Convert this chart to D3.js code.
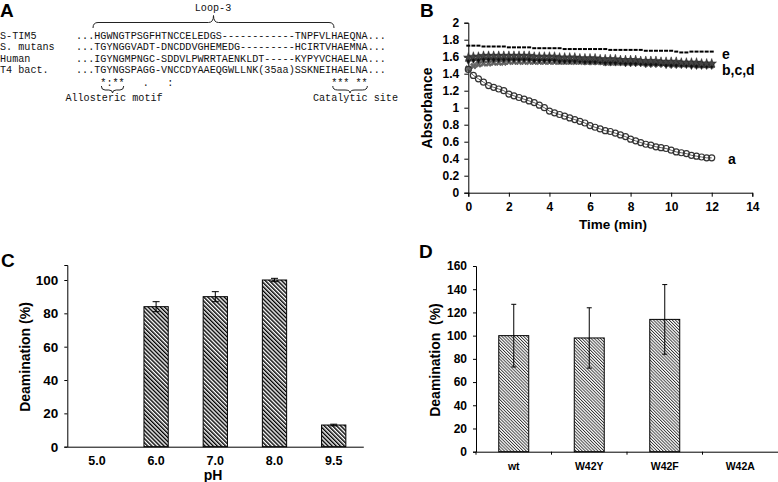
<!DOCTYPE html>
<html><head><meta charset="utf-8">
<script src="https://cdn.jsdelivr.net/npm/d3@7"></script>
<style>
html,body{margin:0;padding:0;background:#fff;}
svg{display:block;}
text{font-family:"Liberation Sans",Arial,sans-serif;}
.mono{font-family:"Liberation Mono","Courier New",monospace;font-size:10.15px;fill:#111;white-space:pre;}
.tick text{font-weight:bold;fill:#000;}
</style></head><body>
<svg id="c" width="778" height="482"></svg>
<script>
// ---------- Panel A data ----------
const seqNames = ["S-TIM5", "S. mutans", "Human", "T4 bact."];
const seqs = [
  "...HGWNGTPSGFHTNCCELEDGS------------TNPFVLHAEQNA...",
  "...TGYNGGVADT-DNCDDVGHEMEDG---------HCIRTVHAEMNA...",
  "...IGYNGMPNGC-SDDVLPWRRTAENKLDT-----KYPYVCHAELNA...",
  "...TGYNGSPAGG-VNCCDYAAEQGWLLNK(35aa)SSKNEIHAELNA..."
];
const conservation = "    *:**   .   :                          *** **";

// ---------- Panel B data ----------
const times = [0,0.25,0.5,0.75,1,1.25,1.5,1.75,2,2.25,2.5,2.75,3,3.25,3.5,3.75,4,4.25,4.5,4.75,5,5.25,5.5,5.75,6,6.25,6.5,6.75,7,7.25,7.5,7.75,8,8.25,8.5,8.75,9,9.25,9.5,9.75,10,10.25,10.5,10.75,11,11.25,11.5,11.75,12];
const absA = [1.45,1.38,1.34,1.30,1.26,1.24,1.22,1.20,1.16,1.14,1.12,1.10,1.08,1.06,1.03,1.00,0.96,0.94,0.92,0.90,0.88,0.86,0.84,0.82,0.79,0.77,0.75,0.73,0.72,0.70,0.68,0.66,0.63,0.61,0.59,0.57,0.56,0.54,0.53,0.52,0.50,0.48,0.47,0.46,0.44,0.43,0.42,0.41,0.41];
const absB = [1.59,1.60,1.60,1.61,1.61,1.61,1.61,1.61,1.61,1.61,1.61,1.61,1.61,1.60,1.60,1.60,1.60,1.60,1.59,1.59,1.59,1.59,1.58,1.58,1.58,1.58,1.57,1.57,1.57,1.57,1.56,1.56,1.56,1.56,1.55,1.55,1.55,1.55,1.54,1.54,1.54,1.54,1.53,1.53,1.53,1.53,1.52,1.52,1.52];
const absC = [1.56,1.57,1.57,1.58,1.58,1.58,1.58,1.58,1.58,1.58,1.58,1.58,1.58,1.57,1.57,1.57,1.57,1.57,1.56,1.56,1.56,1.56,1.56,1.55,1.55,1.55,1.55,1.54,1.54,1.54,1.54,1.53,1.53,1.53,1.53,1.52,1.52,1.52,1.52,1.51,1.51,1.51,1.51,1.51,1.50,1.50,1.50,1.50,1.50];
const absD = [1.46,1.49,1.51,1.52,1.52,1.53,1.53,1.53,1.54,1.54,1.54,1.54,1.54,1.54,1.54,1.54,1.54,1.54,1.54,1.54,1.54,1.54,1.54,1.54,1.54,1.54,1.54,1.53,1.53,1.53,1.53,1.53,1.53,1.53,1.53,1.52,1.52,1.52,1.52,1.52,1.51,1.51,1.51,1.51,1.51,1.50,1.50,1.50,1.50];
const absE = [1.73,1.73,1.73,1.72,1.72,1.72,1.72,1.72,1.71,1.71,1.71,1.71,1.71,1.70,1.70,1.70,1.70,1.70,1.70,1.69,1.69,1.69,1.69,1.69,1.69,1.69,1.69,1.69,1.68,1.68,1.68,1.68,1.68,1.68,1.68,1.67,1.67,1.67,1.67,1.67,1.67,1.66,1.65,1.65,1.66,1.66,1.66,1.66,1.66];
const bTicksX = [0,2,4,6,8,10,12,14];
const bTicksY = [0,0.2,0.4,0.6,0.8,1,1.2,1.4,1.6,1.8,2];

// ---------- Panel C data ----------
const phCats = ["5.0","6.0","7.0","8.0","9.5"];
const phVals = [0,84,90,100,13];
const phErr  = [0,3,3,1,0.5];
const cTicksY = [0,20,40,60,80,100];

// ---------- Panel D data ----------
const mutCats = ["wt","W42Y","W42F","W42A"];
const mutVals = [100,98,114,0];
const mutErr  = [27,26,30,0];
const dTicksY = [0,20,40,60,80,100,120,140,160];

const svg = d3.select("#c");
const defs = svg.append("defs");
function hatch(id, w, sw, color){
  const p = defs.append("pattern").attr("id", id).attr("patternUnits","userSpaceOnUse")
    .attr("width", w).attr("height", 10).attr("patternTransform","rotate(-45)");
  p.append("rect").attr("width", w).attr("height", 10).attr("fill","#fff");
  p.append("rect").attr("x",0).attr("width", sw).attr("height", 10).attr("fill", color);
}
hatch("hC", 2.9, 1.45, "#000");
hatch("hD", 2.2, 0.9, "#333");

function panelLabel(t, x, y){
  svg.append("text").attr("x",x).attr("y",y).attr("font-size",19).attr("font-weight","bold").text(t);
}

// ===== Panel A =====
panelLabel("A", 0, 17);
const cw = 10.15*0.6, seqX = 76;
const rowY = [35, 46.6, 58.2, 69.8];
seqNames.forEach((n,i)=>{
  svg.append("text").attr("class","mono").attr("x",0).attr("y",rowY[i]).attr("dy","0.35em").text(n);
  svg.append("text").attr("class","mono").attr("x",seqX).attr("y",rowY[i]).attr("dy","0.35em").text(seqs[i]);
});
svg.append("text").attr("class","mono").attr("x",seqX).attr("y",82).attr("dy","0.35em").text(conservation);
function brace(x1,x2,yEnd,yLine,yTip){
  const m=(x1+x2)/2, r=Math.min(5,(x2-x1)/6);
  return `M${x1},${yEnd} Q${x1},${yLine} ${x1+r},${yLine} L${m-r},${yLine} Q${m},${yLine} ${m},${yTip} Q${m},${yLine} ${m+r},${yLine} L${x2-r},${yLine} Q${x2},${yLine} ${x2},${yEnd}`;
}
svg.append("path").attr("d",brace(93,334,28,22.5,15.5)).attr("fill","none").attr("stroke","#222").attr("stroke-width",1);
svg.append("text").attr("class","mono").attr("x",213).attr("y",7).attr("dy","0.35em").attr("text-anchor","middle").text("Loop-3");
svg.append("path").attr("d",brace(seqX+4*cw+1,seqX+8*cw-1,86,90,93)).attr("fill","none").attr("stroke","#222");
svg.append("path").attr("d",brace(seqX+42*cw+1,seqX+48*cw-1,86,90,93)).attr("fill","none").attr("stroke","#222");
svg.append("text").attr("class","mono").attr("x",114).attr("y",97.5).attr("dy","0.35em").attr("text-anchor","middle").text("Allosteric motif");
svg.append("text").attr("class","mono").attr("x",355.5).attr("y",97.5).attr("dy","0.35em").attr("text-anchor","middle").text("Catalytic site");

// ===== Panel B =====
panelLabel("B", 420, 17);
const bx = d3.scaleLinear().domain([0,14]).range([468.3,752.3]);
const by = d3.scaleLinear().domain([0,2]).range([192.7,22.7]);
const gB = svg.append("g");
gB.append("g").attr("transform","translate(0,192.7)")
  .call(d3.axisBottom(bx).tickValues(bTicksX).tickSize(4).tickFormat(d3.format("d")))
  .call(g=>g.selectAll("text").attr("font-size",12).attr("dy","0.95em"));
gB.append("g").attr("transform","translate(468.3,0)")
  .call(d3.axisLeft(by).tickValues(bTicksY).tickSize(4).tickFormat(d=>d3.format("~g")(d)))
  .call(g=>g.selectAll("text").attr("font-size",12).attr("dx","-2"));
gB.selectAll(".domain").attr("stroke","#000");
gB.append("text").attr("transform","translate(427,108) rotate(-90)").attr("text-anchor","middle").attr("dy","0.35em")
  .attr("font-size",14).attr("font-weight","bold").text("Absorbance");
gB.append("text").attr("x",613).attr("y",224).attr("text-anchor","middle").attr("dy","0.35em")
  .attr("font-size",13.5).attr("font-weight","bold").text("Time (min)");
// e: dash markers
gB.selectAll(".e").data(times).enter().append("line")
  .attr("x1",(t)=>bx(t)-2).attr("x2",(t)=>bx(t)+2)
  .attr("y1",(t,i)=>by(absE[i])).attr("y2",(t,i)=>by(absE[i]))
  .attr("stroke","#000").attr("stroke-width",2);
// d, c, b markers
const star = d3.symbol().type(d3.symbolStar).size(28);
const cross = d3.symbol().type(d3.symbolCross).size(24);
const diamond = d3.symbol().type(d3.symbolDiamond).size(22);
gB.selectAll(".d").data(times).enter().append("path")
  .attr("d",cross).attr("transform",(t,i)=>`translate(${bx(t)},${by(absD[i])}) rotate(45)`)
  .attr("fill","#666").attr("stroke","#444").attr("stroke-width",0.5);
gB.selectAll(".c").data(times).enter().append("path")
  .attr("d",diamond).attr("transform",(t,i)=>`translate(${bx(t)},${by(absC[i])})`)
  .attr("fill","#111").attr("stroke","#333").attr("stroke-width",0.5);
gB.selectAll(".b").data(times).enter().append("path")
  .attr("d",star).attr("transform",(t,i)=>`translate(${bx(t)},${by(absB[i])})`)
  .attr("fill","#444").attr("stroke","#222").attr("stroke-width",0.5);
// a: open circles
gB.append("path").datum(times).attr("d",d3.line().x(t=>bx(t)).y((t,i)=>by(absA[i])))
  .attr("fill","none").attr("stroke","#333").attr("stroke-width",0.8);
gB.selectAll(".a").data(times).enter().append("circle")
  .attr("cx",t=>bx(t)).attr("cy",(t,i)=>by(absA[i])).attr("r",3)
  .attr("fill","none").attr("stroke","#333").attr("stroke-width",1.2);
[["e",722,54],["b,c,d",722,70],["a",728,159]].forEach(([t,x,y])=>{
  gB.append("text").attr("x",x).attr("y",y).attr("dy","0.35em").attr("font-size",14).attr("font-weight","bold").text(t);
});

// ===== Panel C =====
panelLabel("C", 1, 267);
const cx = d3.scaleBand().domain(phCats).range([67.3,363.3]).paddingInner(0.59).paddingOuter(0.295);
const cy = d3.scaleLinear().domain([0,109]).range([446.7,265]);
const gC = svg.append("g");
gC.selectAll("rect.bar").data(phCats).enter().append("rect")
  .attr("x",d=>cx(d)).attr("width",cx.bandwidth())
  .attr("y",(d,i)=>cy(phVals[i])).attr("height",(d,i)=>cy(0)-cy(phVals[i]))
  .attr("fill","url(#hC)").attr("stroke",(d,i)=>phVals[i]>0?"#000":"none").attr("stroke-width",1);
phCats.forEach((d,i)=>{
  if(phVals[i]<=0) return;
  const xm = cx(d)+cx.bandwidth()/2, t=cy(phVals[i]+phErr[i]), b=cy(phVals[i]-phErr[i]);
  gC.append("path").attr("d",`M${xm},${t}V${b}M${xm-3.5},${t}H${xm+3.5}M${xm-3.5},${b}H${xm+3.5}`)
    .attr("stroke","#000").attr("stroke-width",1).attr("fill","none");
});
gC.append("g").attr("transform","translate(67.3,0)")
  .call(d3.axisLeft(cy).tickValues(cTicksY).tickSize(3).tickFormat(d3.format("d")))
  .call(g=>g.selectAll("text").attr("font-size",13.5).attr("dx","-3"));
gC.append("g").attr("transform","translate(0,446.7)")
  .call(d3.axisBottom(cx).tickSize(0).tickSizeOuter(0))
  .call(g=>g.selectAll("text").attr("font-size",12.5).attr("dy","1.2em"));
gC.selectAll(".domain").attr("stroke","#000");
gC.append("text").attr("transform","translate(25,357) rotate(-90)").attr("text-anchor","middle").attr("dy","0.35em")
  .attr("font-size",14).attr("font-weight","bold").text("Deamination (%)");
gC.append("text").attr("x",213).attr("y",475).attr("text-anchor","middle").attr("dy","0.35em")
  .attr("font-size",14).attr("font-weight","bold").text("pH");

// ===== Panel D =====
panelLabel("D", 419, 258);
const dx = d3.scaleBand().domain(mutCats).range([476,778]).paddingInner(0.603).paddingOuter(0.3015);
const dy = d3.scaleLinear().domain([0,160]).range([451.7,266]);
const gD = svg.append("g");
gD.selectAll("rect.bar").data(mutCats).enter().append("rect")
  .attr("x",d=>dx(d)).attr("width",dx.bandwidth())
  .attr("y",(d,i)=>dy(mutVals[i])).attr("height",(d,i)=>dy(0)-dy(mutVals[i]))
  .attr("fill","url(#hD)").attr("stroke",(d,i)=>mutVals[i]>0?"#000":"none").attr("stroke-width",1);
mutCats.forEach((d,i)=>{
  if(mutVals[i]<=0) return;
  const xm = dx(d)+dx.bandwidth()/2, t=dy(mutVals[i]+mutErr[i]), b=dy(mutVals[i]-mutErr[i]);
  gD.append("path").attr("d",`M${xm},${t}V${b}M${xm-2.5},${t}H${xm+2.5}M${xm-2.5},${b}H${xm+2.5}`)
    .attr("stroke","#000").attr("stroke-width",1).attr("fill","none");
});
gD.append("g").attr("transform","translate(476,0)")
  .call(d3.axisLeft(dy).tickValues(dTicksY).tickSize(3).tickFormat(d3.format("d")))
  .call(g=>g.selectAll("text").attr("font-size",12).attr("dx","-3"));
const gDx = gD.append("g").attr("transform","translate(0,451.7)")
  .call(d3.axisBottom(dx).tickSize(0).tickSizeOuter(0))
  .call(g=>g.selectAll("text").attr("font-size",10.5).attr("dy","1.45em"));
const step = dx.step();
mutCats.forEach((d,i)=>{
  const xb = dx(d)-(step-dx.bandwidth())/2;
  gDx.append("line").attr("x1",xb).attr("x2",xb).attr("y1",0).attr("y2",3).attr("stroke","#000");
});
gD.selectAll(".domain").attr("stroke","#000");
gD.append("text").attr("transform","translate(435,360) rotate(-90)").attr("text-anchor","middle").attr("dy","0.35em")
  .attr("font-size",14).attr("font-weight","bold").attr("xml:space","preserve").style("white-space","pre").text("Deamination  (%)");
</script>
</body></html>
